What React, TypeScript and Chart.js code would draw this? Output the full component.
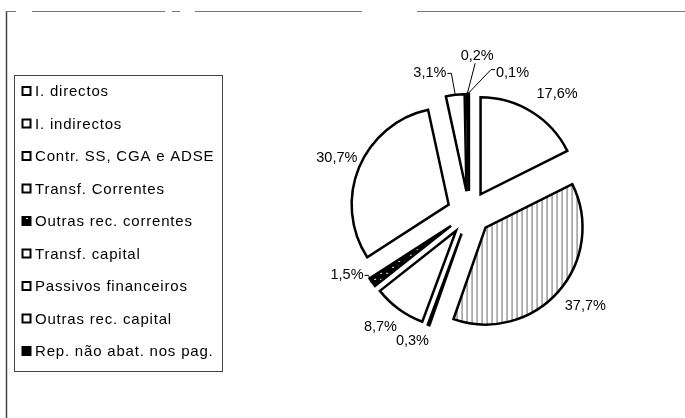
import React, { useEffect, useRef } from 'react';
import { Chart, registerables } from 'chart.js';

Chart.register(...registerables);

// ---- data ----
const categories = [
  'I. directos',
  'I. indirectos',
  'Contr. SS, CGA e ADSE',
  'Transf. Correntes',
  'Outras rec. correntes',
  'Transf. capital',
  'Passivos financeiros',
  'Outras rec. capital',
  'Rep. não abat. nos pag.',
];
const shares = [17.6, 37.7, 0.3, 8.7, 1.5, 30.7, 3.1, 0.2, 0.1];
const fillKinds = ['white', 'stripes', 'white', 'white', 'dots', 'white', 'white', 'white', 'black'];
const percentLabels = shares.map((v) => v.toFixed(1).replace('.', ',') + '%');

// ---- styling / layout ----
const FONT = '15px "Liberation Sans", Arial, sans-serif';
const LABEL_FONT = '14.5px "Liberation Sans", Arial, sans-serif';
const EXPLODE = 22;
const LABEL_GAP = 24;
// per-label nudges: [angle degrees, extra distance px]
const labelNudge: [number, number][] = [
  [4.8, 5], [-2.7, 6], [4, -3], [1.9, 1], [8.5, -6], [0, 0], [-9, 2], [3.7, 14], [17.4, 4],
];
const leaderSide: (string | null)[] = [null, null, null, null, 'right', null, 'right', 'bottom', 'left'];

function makeStripes(): CanvasPattern {
  const c = document.createElement('canvas');
  c.width = 5;
  c.height = 4;
  const g = c.getContext('2d')!;
  g.fillStyle = '#fff';
  g.fillRect(0, 0, 5, 4);
  g.fillStyle = '#6a6a6a';
  g.fillRect(0, 0, 1, 4);
  return g.createPattern(c, 'repeat')!;
}
function makeDots(): CanvasPattern {
  const c = document.createElement('canvas');
  c.width = 6;
  c.height = 6;
  const g = c.getContext('2d')!;
  g.fillStyle = '#000';
  g.fillRect(0, 0, 6, 6);
  g.fillStyle = '#fff';
  g.fillRect(2, 2, 2, 1);
  return g.createPattern(c, 'repeat')!;
}

const explodePlugin = {
  id: 'explode',
  beforeDatasetDraw(chart: any, args: any) {
    const ctx = chart.ctx;
    args.meta.data.forEach((arc: any) => {
      const half = (arc.startAngle + arc.endAngle) / 2;
      ctx.save();
      ctx.translate(Math.cos(half) * EXPLODE, Math.sin(half) * EXPLODE);
      arc.draw(ctx, chart.chartArea);
      ctx.restore();
    });
    return false;
  },
};

const decorPlugin = {
  id: 'decor',
  afterDraw(chart: any) {
    const ctx: CanvasRenderingContext2D = chart.ctx;
    ctx.save();
    // outer frame
    ctx.strokeStyle = '#444';
    ctx.lineWidth = 1.5;
    ctx.beginPath();
    ctx.moveTo(6.5, 11);
    ctx.lineTo(6.5, 418);
    ctx.stroke();
    ctx.lineWidth = 1;
    ctx.strokeStyle = '#777';
    const topSegs = [[6, 16], [32, 165], [172, 180], [195, 362], [417, 685]];
    topSegs.forEach(([a, b]) => {
      ctx.beginPath();
      ctx.moveTo(a, 11.5);
      ctx.lineTo(b, 11.5);
      ctx.stroke();
    });

    // legend frame
    ctx.strokeStyle = '#444';
    ctx.lineWidth = 1;
    ctx.strokeRect(14.5, 75.5, 208, 296);

    // legend items
    ctx.font = FONT;
    ctx.textBaseline = 'middle';
    ctx.textAlign = 'left';
    (ctx as any).letterSpacing = '0.8px';
    const bg = chart.data.datasets[0].backgroundColor;
    categories.forEach((name, i) => {
      const cy = 91 + i * 32.5;
      ctx.fillStyle = fillKinds[i] === 'stripes' ? '#fff' : bg[i];
      ctx.fillRect(22.5, cy - 4, 8, 8);
      ctx.strokeStyle = '#000';
      ctx.lineWidth = 2;
      ctx.strokeRect(22.5, cy - 4, 8, 8);
      ctx.fillStyle = '#000';
      ctx.fillText(name, 35, cy + 1);
    });
    (ctx as any).letterSpacing = '0px';

    // data labels
    ctx.font = LABEL_FONT;
    const arcs = chart.getDatasetMeta(0).data;
    ctx.textAlign = 'center';
    arcs.forEach((arc: any, i: number) => {
      const mid = (arc.startAngle + arc.endAngle) / 2;
      const [dA, dD] = labelNudge[i];
      const ang = mid + (dA * Math.PI) / 180;
      const dist = arc.outerRadius + EXPLODE + LABEL_GAP + dD;
      const lx = arc.x + Math.cos(ang) * dist;
      const ly = arc.y + Math.sin(ang) * dist;
      const text = percentLabels[i];
      ctx.fillStyle = '#000';
      ctx.fillText(text, lx, ly);
      const side = leaderSide[i];
      if (side) {
        const w = ctx.measureText(text).width;
        const sr = arc.outerRadius + EXPLODE + 1;
        const sx = arc.x + Math.cos(mid) * sr;
        const sy = arc.y + Math.sin(mid) * sr;
        ctx.strokeStyle = '#000';
        ctx.lineWidth = 1;
        ctx.beginPath();
        if (side === 'right') {
          ctx.moveTo(lx + w / 2 + 1, ly);
          ctx.lineTo(lx + w / 2 + 5, ly);
        } else if (side === 'left') {
          ctx.moveTo(lx - w / 2 - 1, ly - 3);
          ctx.lineTo(lx - w / 2 - 5, ly - 3);
        } else {
          ctx.moveTo(lx - 2, ly + 7);
        }
        ctx.lineTo(sx, sy);
        ctx.stroke();
      }
    });
    ctx.restore();
  },
};

export default function App() {
  const ref = useRef<HTMLCanvasElement>(null);
  useEffect(() => {
    if (!ref.current) return;
    const resolve = (k: string) =>
      k === 'stripes' ? makeStripes() : k === 'dots' ? makeDots() : k === 'black' ? '#000' : '#fff';
    const chart = new Chart(ref.current, {
      type: 'pie',
      data: {
        labels: categories,
        datasets: [
          {
            data: shares,
            backgroundColor: fillKinds.map(resolve) as any,
            borderColor: '#000',
            borderWidth: 2.5,
            borderJoinStyle: 'miter',
            offset: 0,
          } as any,
        ],
      },
      options: {
        responsive: false,
        animation: false,
        radius: 97,
        events: [],
        layout: { padding: { left: 300, right: 47, top: 20, bottom: 12 } },
        plugins: { legend: { display: false }, tooltip: { enabled: false } },
      } as any,
      plugins: [explodePlugin, decorPlugin],
    });
    return () => chart.destroy();
  }, []);
  return (
    <div style={{ position: 'fixed', left: 0, top: 0, width: 685, height: 418, background: '#fff' }}>
      <canvas ref={ref} width={685} height={418} />
    </div>
  );
}
